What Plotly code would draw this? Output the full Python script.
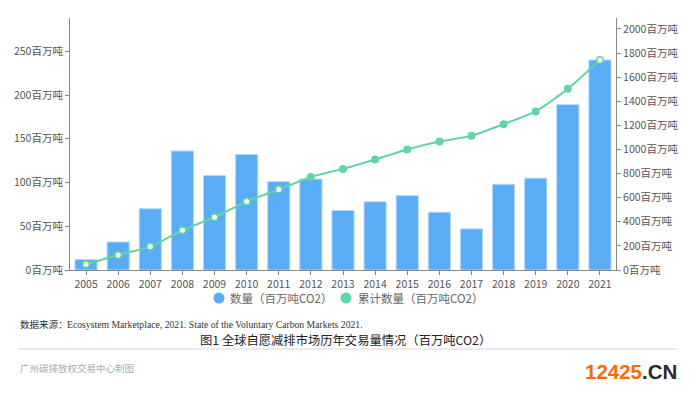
import plotly.graph_objects as go

years = [str(y) for y in range(2005, 2022)]
volume = [12, 32, 70, 136, 108, 132, 101, 104, 68, 78, 85, 66, 47, 98, 105, 189, 240]
cumulative = [47, 125, 194, 330, 438, 568, 668, 772, 839, 917, 1000, 1066, 1113, 1210, 1316, 1503, 1742]
left_ticks = [0, 50, 100, 150, 200, 250]
right_ticks = [0, 200, 400, 600, 800, 1000, 1200, 1400, 1600, 1800, 2000]
unit = "百万吨"
series_names = ["数量（百万吨CO2）", "累计数量（百万吨CO2）"]

BLUE = "#5aacf4"
GREEN = "#62d4a8"
FONT = "Noto Sans CJK SC"
W, H = 693, 393

# hollow markers where the point sits inside a bar
marker_fill = []
for v, c in zip(volume, cumulative):
    inside = c / 2091 * 288 < v
    marker_fill.append("white" if inside else GREEN)

fig = go.Figure()
fig.add_trace(go.Bar(
    x=years, y=volume, name=series_names[0],
    marker=dict(color=BLUE, line=dict(color="#b3d9fb", width=1)),
    showlegend=False, yaxis="y",
))
fig.add_trace(go.Scatter(
    x=years, y=cumulative, name=series_names[1], yaxis="y2",
    mode="lines+markers",
    line=dict(color=GREEN, width=2, shape="spline", smoothing=0.6),
    marker=dict(size=6.5, color=marker_fill, line=dict(color=GREEN, width=1.5)),
    showlegend=False,
))

axis_common = dict(showline=True, linecolor="#888", linewidth=1,
                   ticks="outside", ticklen=4, tickcolor="#888",
                   showgrid=False, zeroline=False, automargin=False,
                   tickfont=dict(size=10.5, color="#555"))

fig.update_layout(
    width=W, height=H,
    margin=dict(l=70, r=77, t=18, b=123, autoexpand=False),
    paper_bgcolor="white", plot_bgcolor="white",
    font=dict(family=FONT, size=10, color="#555"),
    bargap=0.31, showlegend=False,
    xaxis=dict(type="category", categoryorder="array", categoryarray=years,
               range=[-0.5, len(years) - 0.5], **axis_common),
    yaxis=dict(range=[0, 288], tickvals=left_ticks,
               ticktext=[f"{t}{unit}" for t in left_ticks], **axis_common),
    yaxis2=dict(range=[0, 2091], tickvals=right_ticks,
                ticktext=[f"{t}{unit}" for t in right_ticks],
                overlaying="y", side="right", **axis_common),
)

def px(xpix):
    return (xpix - 70) / 546

def py(ypix):
    return (270 - ypix) / 252

def ann(text, xpix, ypix, anchor, size, color, family=FONT):
    fig.add_annotation(text=text, xref="paper", yref="paper",
                       x=px(xpix), y=py(ypix),
                       xanchor=anchor, yanchor="middle", showarrow=False,
                       font=dict(size=size, color=color, family=family))

# legend (circle symbols + labels)
for cx, tx, name, col in [(219, 228, series_names[0], BLUE), (346, 356, series_names[1], GREEN)]:
    fig.add_shape(type="circle", xref="paper", yref="paper",
                  xsizemode="pixel", ysizemode="pixel",
                  xanchor=px(cx), yanchor=py(298),
                  x0=-5.5, x1=5.5, y0=-5.5, y1=5.5,
                  fillcolor=col, line=dict(width=0))
    ann(name, tx, 298, "left", 11.5, "#666")

ann("数据来源：", 18, 324, "left", 9.5, "#333")
ann("Ecosystem Marketplace, 2021. State of the Voluntary Carbon Markets 2021.",
    65, 324, "left", 9.7, "#333", "Liberation Serif")
ann("图1 全球自愿减排市场历年交易量情况（百万吨CO2）", 345, 340, "center", 12.3, "#222")
ann("广州碳排放权交易中心制图", 18, 368, "left", 9.5, "#aaa")
ann("<b><span style='color:#ff6a00'>12425</span><span style='color:#2b2b2b'>.CN</span></b>",
    679, 371, "right", 20.5, "#ff6a00", "Liberation Sans")

fig.add_shape(type="line", xref="paper", yref="paper",
              x0=px(18), x1=px(677), y0=py(349), y1=py(349),
              line=dict(color="#ebebeb", width=2))

fig.write_html("out.html", config={"responsive": False, "displayModeBar": False},
               post_script="document.body.style.margin='0';document.body.style.overflow='hidden';")
